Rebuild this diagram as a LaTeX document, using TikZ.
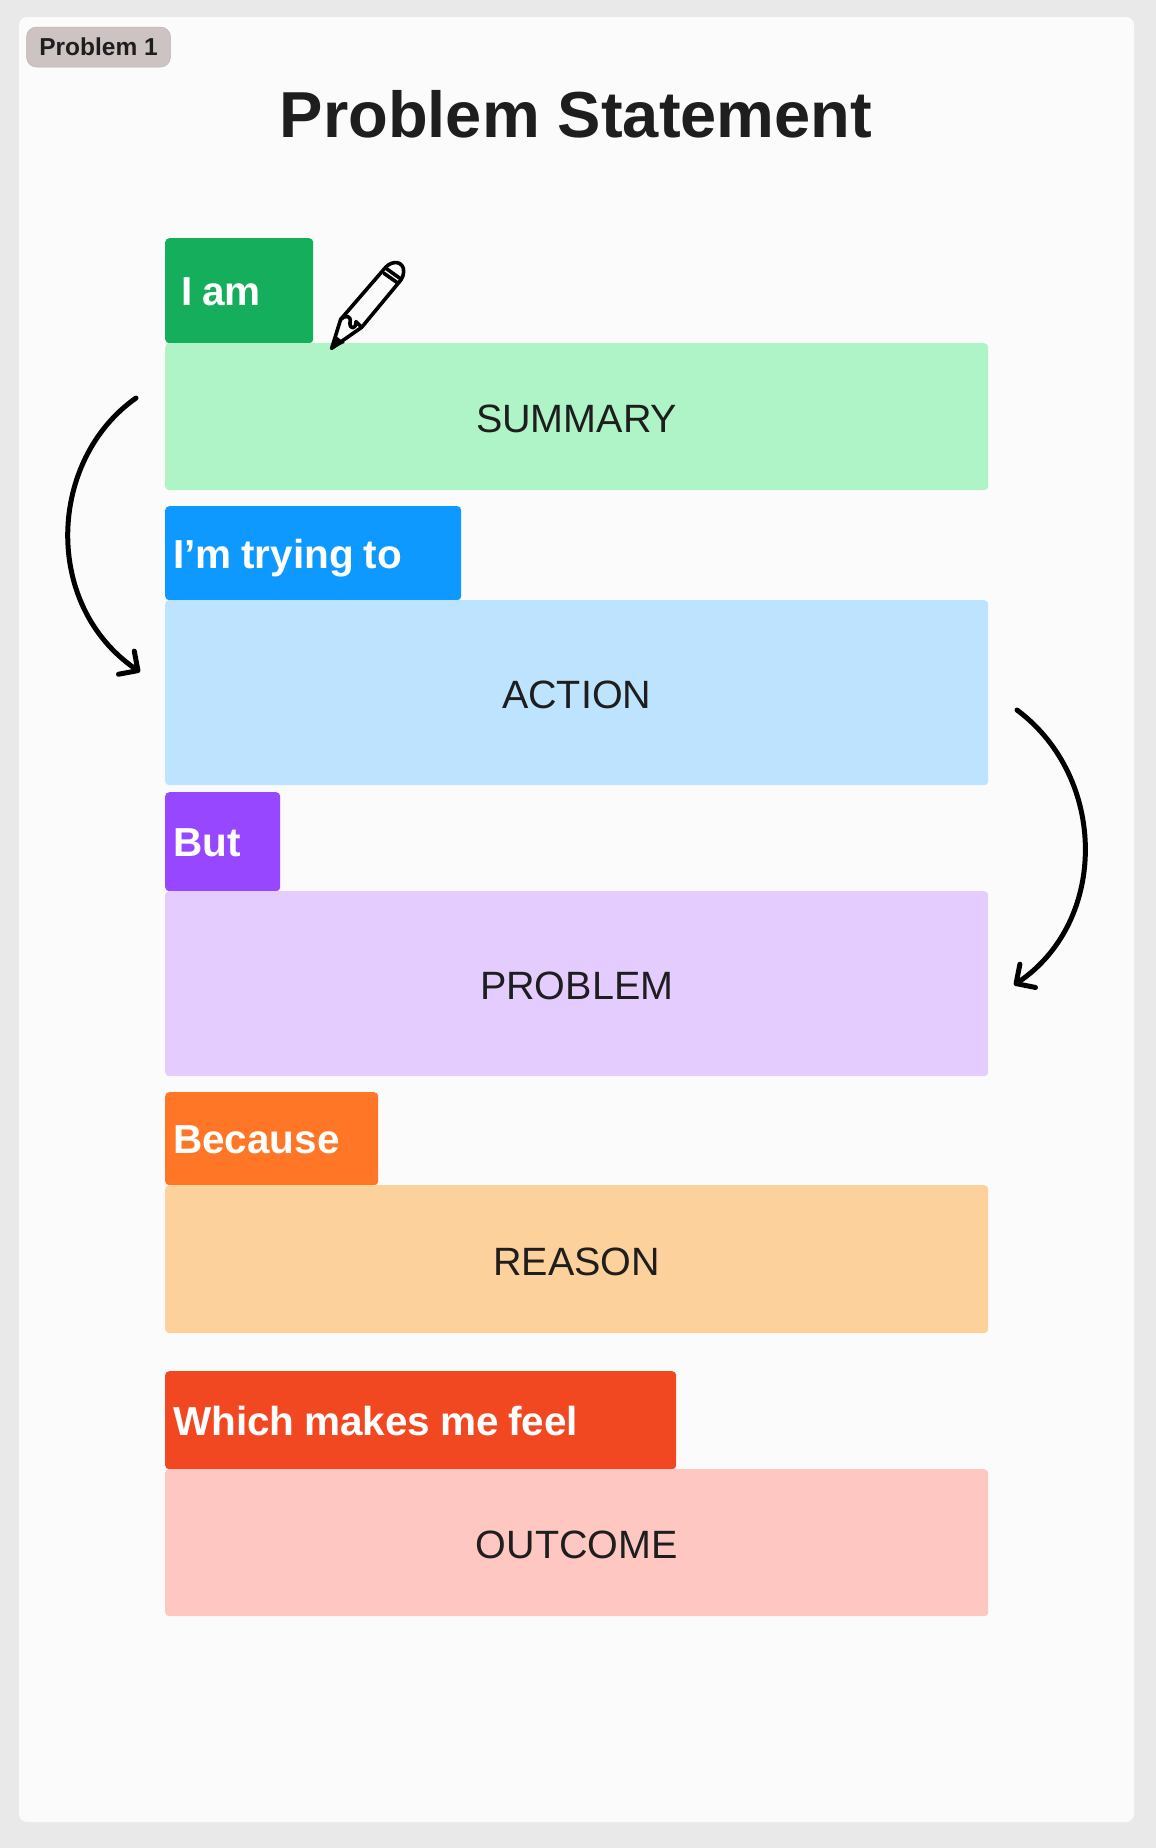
\documentclass[tikz,border=0pt]{standalone}
\usepackage{fontspec}
\setmainfont{Liberation Sans}
\usetikzlibrary{arrows.meta}

\definecolor{page_grey}{HTML}{E9E9E9}
\definecolor{card_white}{HTML}{FBFBFB}
\definecolor{badge_grey}{HTML}{CDC3C3}
\definecolor{ink}{HTML}{1E1E1E}
\definecolor{green_dark}{HTML}{14AE5C}
\definecolor{green_light}{HTML}{AFF4C6}
\definecolor{blue_dark}{HTML}{0D99FF}
\definecolor{blue_light}{HTML}{BDE3FF}
\definecolor{purple_dark}{HTML}{9747FF}
\definecolor{purple_light}{HTML}{E4CCFF}
\definecolor{orange_dark}{HTML}{FF7726}
\definecolor{orange_light}{HTML}{FCD19C}
\definecolor{red_dark}{HTML}{F24822}
\definecolor{red_light}{HTML}{FFC7C2}

\tikzset{
  tagbox/.style={anchor=north west, rounded corners=4pt, inner xsep=8pt, inner ysep=0pt, text height=30.5pt, text depth=0pt, text=white, font=\fontsize{40.5}{40}\selectfont\bfseries, execute at begin node={\spaceskip=0.24em\relax}},
  bodybox/.style={anchor=north west, rounded corners=4pt, inner sep=0pt, minimum width=823pt, text height=32.5pt, text depth=0pt, text=ink, font=\fontsize{39.5}{40}\selectfont},
  curve_arrow/.style={line width=5pt, line cap=round, -{Straight Barb[length=14pt,width=28pt,round]}},
  pencil_line/.style={line width=3.6pt, line join=round, line cap=round}
}

\begin{document}
\begin{tikzpicture}[x=1pt,y=-1pt]

\useasboundingbox (0,0) rectangle (1156,1848);
\fill[page_grey] (0,0) rectangle (1156,1848);
\fill[card_white, rounded corners=8pt] (19,17) rectangle (1134,1822);

\pgfmathsetmacro\x{165}

% plot the header
\node[fill=badge_grey, rounded corners=10pt, draw=badge_grey!92!black, line width=0.5pt, minimum width=144pt, minimum height=40pt, inner sep=0pt, text=ink, font=\fontsize{24.5}{25}\selectfont\bfseries] (badge) at (98.5,47) {Problem 1};
\node[text=ink, inner sep=0pt, font=\fontsize{65}{66}\selectfont\bfseries] (title) at (576,114) {Problem Statement};

% plot the first pair
\pgfmathsetmacro\y{238}
\node[tagbox, fill=green_dark, text width=116pt, minimum height=105pt, inner xsep=16pt] (tag_summary) at (\x,\y) {I am};
\node[bodybox, fill=green_light, minimum height=147pt] (summary) at (\x,\y+105) {SUMMARY};

% plot the second pair
\pgfmathsetmacro\y{506}
\node[tagbox, fill=blue_dark, text width=280pt, minimum height=94pt] (tag_action) at (\x,\y) {I’m trying to};
\node[bodybox, fill=blue_light, minimum height=185pt] (action) at (\x,\y+94) {ACTION};

% plot the third pair
\pgfmathsetmacro\y{792}
\node[tagbox, fill=purple_dark, text width=99pt, minimum height=99pt] (tag_problem) at (\x,\y) {But};
\node[bodybox, fill=purple_light, minimum height=185pt] (problem) at (\x,\y+99) {PROBLEM};

% plot the fourth pair
\pgfmathsetmacro\y{1092}
\node[tagbox, fill=orange_dark, text width=197pt, minimum height=93pt] (tag_reason) at (\x,\y) {Because};
\node[bodybox, fill=orange_light, minimum height=148pt] (reason) at (\x,\y+93) {REASON};

% plot the last pair
\pgfmathsetmacro\y{1371}
\node[tagbox, fill=red_dark, text width=495pt, minimum height=98pt] (tag_outcome) at (\x,\y) {Which makes me feel};
\node[bodybox, fill=red_light, minimum height=147pt] (outcome) at (\x,\y+98) {OUTCOME};

% plot the arrows
\coordinate (left_start) at (136,398);
\coordinate (left_end) at (140,672);
\draw[curve_arrow] (left_start) .. controls (48,460) and (42,605) .. (left_end);
\coordinate (right_start) at (1017,710);
\coordinate (right_end) at (1014,985);
\draw[curve_arrow] (right_start) .. controls (1108,778) and (1108,922) .. (right_end);

%plot pencil
\begin{scope}[shift={(310,240)}, x=0.3333pt, y=-0.3333pt]
\draw[pencil_line, fill=card_white] (92,238) -- (220,90) .. controls (240,62) and (272,60) .. (280,85) .. controls (284,100) and (277,117) .. (267,127) -- (155,262) -- (65,325) -- cycle;
\draw[pencil_line] (92,238) .. controls (105,225) and (125,225) .. (120,248) .. controls (118,268) and (138,270) .. (138,245) -- (155,262);
\draw[pencil_line] (222,100) -- (262,128);
\draw[pencil_line] (232,88) -- (270,115);
\fill (62,330) -- (78,288) -- (104,308) -- cycle;
\end{scope}

\end{tikzpicture}
\end{document}
